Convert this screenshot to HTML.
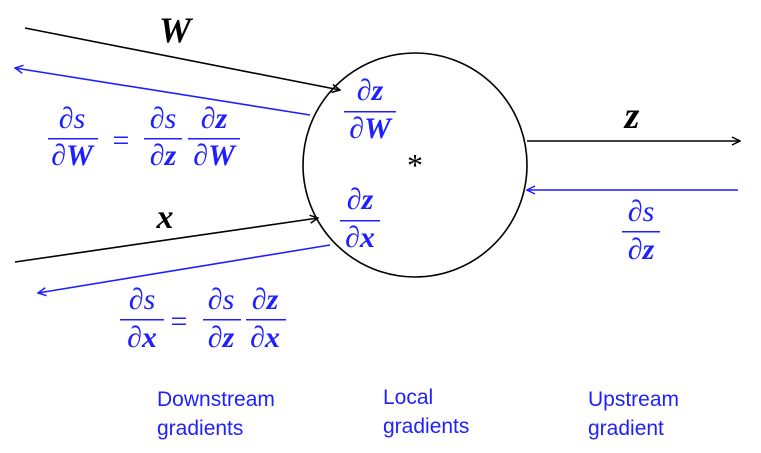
<!DOCTYPE html>
<html><head><meta charset="utf-8"><style>
html,body{margin:0;padding:0;background:#fff;}
svg{display:block;}
.m{font-family:"Liberation Serif",serif;font-style:italic;font-size:30px;}
.b{font-weight:bold;}
.bl{fill:#1f1fff;}
.lab{font-family:"Liberation Sans",sans-serif;font-size:21px;fill:#1f1fff;}
</style></head><body>
<svg width="761" height="453" viewBox="0 0 761 453">
<defs>
<marker id="ak" markerWidth="10" markerHeight="10" refX="9" refY="5" orient="auto" markerUnits="userSpaceOnUse"><path d="M1,1 L9,5 L1,9" fill="none" stroke="#000" stroke-width="1.5"/></marker>
<marker id="ab" markerWidth="10" markerHeight="10" refX="9" refY="5" orient="auto" markerUnits="userSpaceOnUse"><path d="M1,1 L9,5 L1,9" fill="none" stroke="#1f1fff" stroke-width="1.5"/></marker>
</defs>
<circle cx="415" cy="165" r="112" fill="none" stroke="#000" stroke-width="1.6"/>
<text x="415" y="176" text-anchor="middle" class="m" style="font-style:normal;font-size:32px">*</text>

<line x1="25" y1="28" x2="340" y2="90" stroke="#000" stroke-width="1.6" marker-end="url(#ak)"/>
<line x1="310" y1="115" x2="15" y2="68" stroke="#1f1fff" stroke-width="1.6" marker-end="url(#ab)"/>
<line x1="15" y1="262" x2="318" y2="218" stroke="#000" stroke-width="1.6" marker-end="url(#ak)"/>
<line x1="330" y1="245" x2="38" y2="293" stroke="#1f1fff" stroke-width="1.6" marker-end="url(#ab)"/>
<line x1="527" y1="141" x2="740" y2="141" stroke="#000" stroke-width="1.6" marker-end="url(#ak)"/>
<line x1="738" y1="190" x2="527" y2="190" stroke="#1f1fff" stroke-width="1.6" marker-end="url(#ab)"/>

<text x="175" y="42" text-anchor="middle" class="m b" style="font-size:36px">W</text>
<text x="165" y="228" text-anchor="middle" class="m b" style="font-size:34px">x</text>
<text x="632" y="128" text-anchor="middle" class="m b" style="font-size:38px">z</text>

<g class="bl">
<text x="72" y="128" text-anchor="middle" class="m bl">∂s</text><rect x="48" y="138" width="50" height="1.5" fill="#1f1fff"/><text x="72" y="165" text-anchor="middle" class="m bl">∂<tspan class="b">W</tspan></text>
<text x="121" y="150" text-anchor="middle" class="m bl" style="font-style:normal">=</text>
<text x="163" y="128" text-anchor="middle" class="m bl">∂s</text><rect x="144" y="138" width="38" height="1.5" fill="#1f1fff"/><text x="163" y="165" text-anchor="middle" class="m bl">∂<tspan class="b">z</tspan></text>
<text x="214" y="128" text-anchor="middle" class="m bl">∂<tspan class="b">z</tspan></text><rect x="188" y="138" width="52" height="1.5" fill="#1f1fff"/><text x="214" y="165" text-anchor="middle" class="m bl">∂<tspan class="b">W</tspan></text>
</g>

<g>
<text x="142" y="309" text-anchor="middle" class="m bl">∂s</text><rect x="120" y="319" width="44" height="1.5" fill="#1f1fff"/><text x="142" y="347" text-anchor="middle" class="m bl">∂<tspan class="b">x</tspan></text>
<text x="179" y="331" text-anchor="middle" class="m bl" style="font-style:normal">=</text>
<text x="221" y="309" text-anchor="middle" class="m bl">∂s</text><rect x="203" y="319" width="38" height="1.5" fill="#1f1fff"/><text x="221" y="347" text-anchor="middle" class="m bl">∂<tspan class="b">z</tspan></text>
<text x="265" y="309" text-anchor="middle" class="m bl">∂<tspan class="b">z</tspan></text><rect x="246" y="319" width="40" height="1.5" fill="#1f1fff"/><text x="265" y="347" text-anchor="middle" class="m bl">∂<tspan class="b">x</tspan></text>
</g>

<g>
<text x="370" y="100" text-anchor="middle" class="m bl">∂<tspan class="b">z</tspan></text><rect x="344" y="111" width="52" height="1.5" fill="#1f1fff"/><text x="370" y="138" text-anchor="middle" class="m bl">∂<tspan class="b">W</tspan></text>
</g>
<g>
<text x="360" y="209" text-anchor="middle" class="m bl">∂<tspan class="b">z</tspan></text><rect x="340" y="220" width="40" height="1.5" fill="#1f1fff"/><text x="360" y="247" text-anchor="middle" class="m bl">∂<tspan class="b">x</tspan></text>
</g>
<g>
<text x="641" y="221" text-anchor="middle" class="m bl">∂s</text><rect x="622" y="231" width="38" height="1.5" fill="#1f1fff"/><text x="641" y="259" text-anchor="middle" class="m bl">∂<tspan class="b">z</tspan></text>
</g>

<text class="lab" x="157" y="406"><tspan x="157">Downstream</tspan><tspan x="157" dy="29">gradients</tspan></text>
<text class="lab" x="383" y="404"><tspan x="383">Local</tspan><tspan x="383" dy="29">gradients</tspan></text>
<text class="lab" x="588" y="406"><tspan x="588">Upstream</tspan><tspan x="588" dy="29">gradient</tspan></text>
</svg>
</body></html>
